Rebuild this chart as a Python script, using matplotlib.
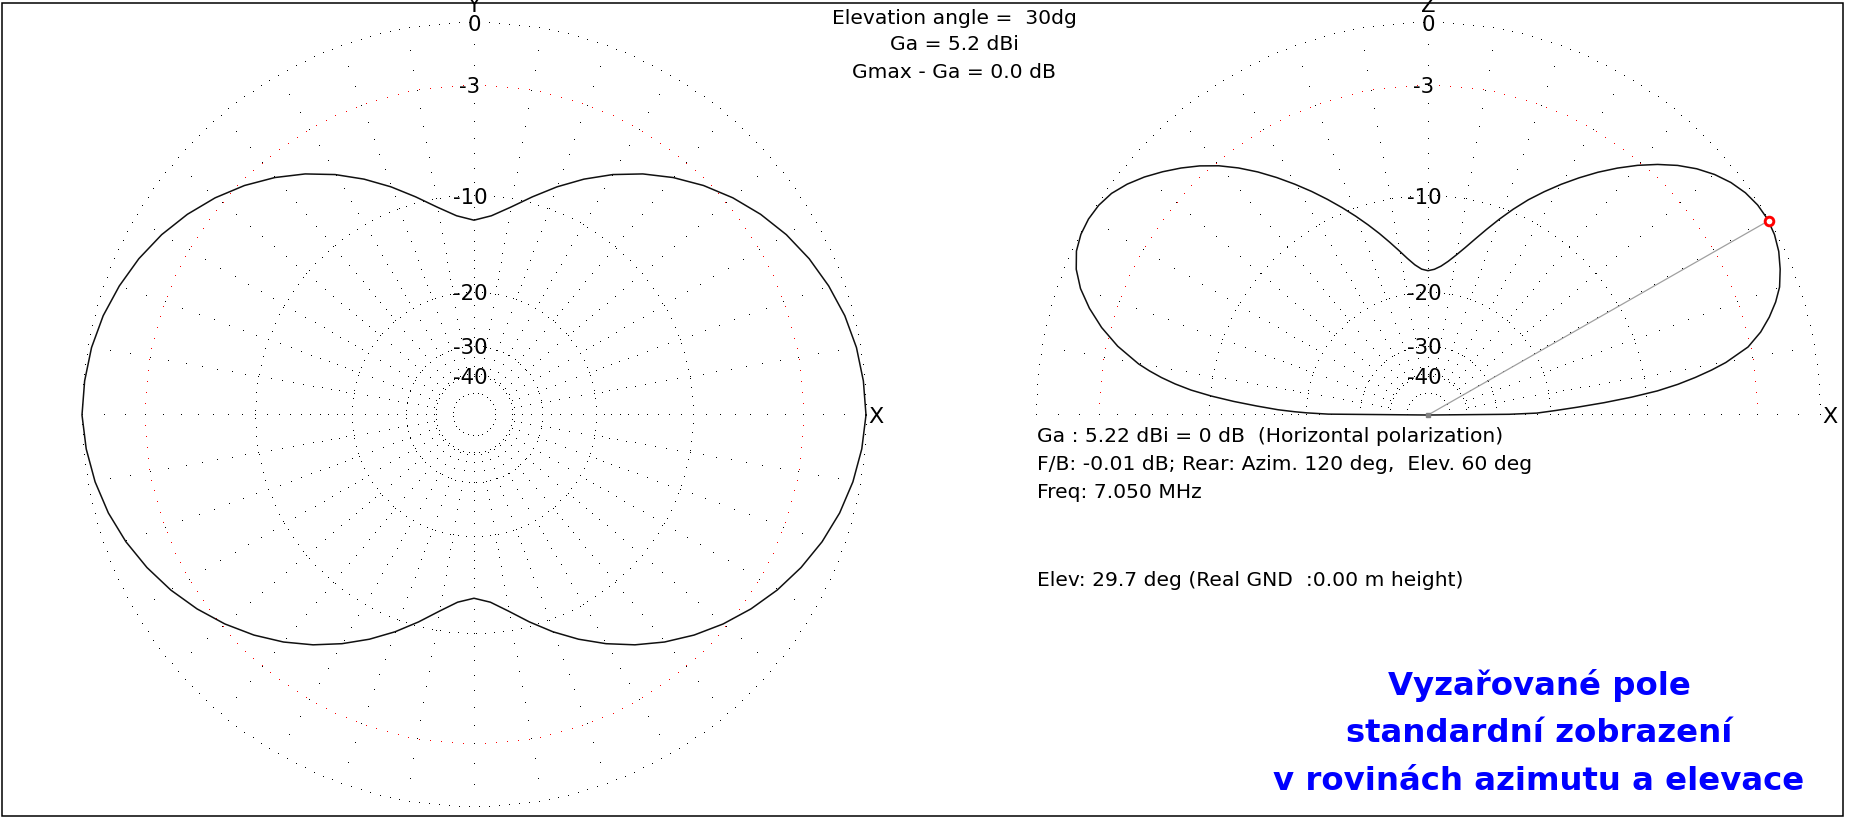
import numpy as np
import matplotlib
matplotlib.use("Agg")
import matplotlib.pyplot as plt
from matplotlib.patches import Rectangle
from matplotlib.transforms import offset_copy

plt.rcParams['font.family'] = ['DejaVu Sans']

# ---------------- data ----------------
# Azimuth pattern (elevation 30 deg): angle CCW from +X, gain in dB relative to max
az_angle_deg = list(range(0, 365, 5))
az_gain_db = [
    # 0 .. 90
    0.0, -0.05, -0.16, -0.36, -0.65, -1.0, -1.43, -1.95, -2.55, -3.24,
    -4.03, -4.92, -5.92, -7.03, -8.22, -9.46, -10.63, -11.55, -12.0,
    # 95 .. 180
    -11.55, -10.63, -9.46, -8.22, -7.03, -5.92, -4.92, -4.03, -3.24,
    -2.55, -1.95, -1.43, -1.0, -0.65, -0.36, -0.16, -0.05, 0.0,
    # 185 .. 270
    -0.12, -0.32, -0.60, -0.97, -1.42, -1.94, -2.54, -3.21, -3.96,
    -4.80, -5.74, -6.78, -7.90, -9.10, -10.37, -11.62, -12.62, -13.05,
    # 275 .. 360
    -12.62, -11.62, -10.37, -9.10, -7.90, -6.78, -5.74, -4.80, -3.96,
    -3.21, -2.54, -1.94, -1.42, -0.97, -0.60, -0.32, -0.12, 0.0,
]

# Elevation pattern: angle from +X horizon (0..180), gain in dB relative to max
elev_angle_deg = [
    0, 0.5, 1, 2, 3, 4, 5, 6, 7, 8, 9, 10, 12, 14, 16, 18, 20,
    22.5, 25, 27.5, 30, 32.5, 35, 37.5, 40, 42.5, 45, 47.5, 50,
    52.5, 55, 57.5, 60, 62.5, 65, 67.5, 70, 72.5, 75, 77.5, 80, 82.5, 85, 87.5, 90,
    92.5, 95, 97.5, 100, 102.5, 105, 107.5, 110, 112.5, 115, 117.5, 120,
    122.5, 125, 127.5, 130, 132.5, 135, 137.5, 140, 142.5, 145, 147.5, 150,
    152.5, 155, 157.5, 160, 162.5, 165, 167.5, 170,
    171, 172, 173, 174, 175, 176, 177, 178, 178.6, 179, 179.5, 180,
]
elev_gain_db = [
    -99, -27, -22, -19.3, -16.5, -13.7, -11.2, -9.1, -7.6, -6.4, -5.35, -4.45,
    -3.1, -2.3, -1.7, -1.2, -0.8,
    -0.48, -0.22, -0.06, 0.0, -0.05, -0.2, -0.45, -0.8, -1.25, -1.8, -2.45, -3.17,
    -3.96, -4.8, -5.7, -6.63, -7.6, -8.6, -9.7, -10.85, -12.02, -13.15, -14.2,
    -15.12, -15.92, -16.55, -16.97, -17.15,
    -16.95, -16.4, -15.6, -14.65, -13.65, -12.62, -11.6, -10.58, -9.57, -8.57, -7.58, -6.62,
    -5.68, -4.78, -3.95, -3.2, -2.55, -1.98, -1.46, -0.98, -0.57, -0.25, -0.07, 0.0,
    -0.03, -0.18, -0.5, -1.0, -1.7, -2.55, -3.6, -4.95,
    -5.65, -6.45, -7.4, -8.55, -10.1, -12.0, -14.2, -16.5, -18.5, -20.2, -23.5, -99,
]

max_elev_deg = 29.7
max_gain_db = 0.0

ring_db = [0, -3, -10, -20, -30, -40, -50]
label_db = [0, -3, -10, -20, -30, -40]
label_text = ["0", "-3", "-10", "-20", "-30", "-40"]

title_lines = ["Elevation angle =  30dg", "Ga = 5.2 dBi", "Gmax - Ga = 0.0 dB"]
info_lines = ["Ga : 5.22 dBi = 0 dB  (Horizontal polarization)",
              "F/B: -0.01 dB; Rear: Azim. 120 deg,  Elev. 60 deg",
              "Freq: 7.050 MHz"]
elev_note = "Elev: 29.7 deg (Real GND  :0.00 m height)"
blue_lines = ["Vyzařované pole", "standardní zobrazení", "v rovinách azimutu a elevace"]

# ---------------- layout ----------------
W, H, DPI = 1853, 823, 100
R_PX = 392.0
RMAX = 1.1
S = 2 * R_PX * RMAX


def db2r(db):
    # ARRL-style log scale: factor 0.89 per 2 dB
    return 0.89 ** (-np.asarray(db, dtype=float) / 2.0)


fig = plt.figure(figsize=(W / DPI, H / DPI), dpi=DPI)
fig.patch.set_facecolor('white')


def fx(x):
    return x / W


def fy(y):
    return 1.0 - y / H


def add_polar(cx, cy):
    ax = fig.add_axes([(cx - S / 2) / W, ((H - cy) - S / 2) / H, S / W, S / H],
                      projection='polar')
    ax.set_theta_zero_location('E')
    ax.set_theta_direction(1)
    ax.set_ylim(0, RMAX)
    ax.set_axis_off()
    return ax


ring_spacing = {0: 10, -3: 11, -10: 9, -20: 8, -30: 7, -40: 5.5, -50: 5}
spoke_dot_db = list(range(-1, -21, -1)) + [-22, -24, -26, -28, -30, -33, -36, -39]


def draw_grid(ax, th0, th1, spokes):
    for d in ring_db:
        r = float(db2r(d))
        n = int(round((th1 - th0) * r * R_PX / ring_spacing[d]))
        th = np.linspace(th0, th1, n + 1)
        ax.plot(th, np.full_like(th, r), ls='none', marker=',',
                color='#ff0000' if d == -3 else '#000000', clip_on=False, zorder=1)
    rr = db2r(spoke_dot_db)
    for a in spokes:
        ax.plot(np.full_like(rr, np.deg2rad(a)), rr, ls='none', marker=',',
                color='#000000', clip_on=False, zorder=1)


def draw_labels(ax, axis_name):
    for d, lab in zip(label_db, label_text):
        dx = 0 if lab == "0" else -4
        tr = offset_copy(ax.transData, fig=fig, x=dx, y=-7.6, units='dots')
        ax.text(np.pi / 2, float(db2r(d)), lab, transform=tr, ha='center',
                va='baseline', fontsize=15.3, color='black', zorder=5)
    # axis name sits just above the top of the outer ring (partly cut by the frame)
    tr = offset_copy(ax.transData, fig=fig, x=0, y=11, units='dots')
    ax.text(np.pi / 2, 1.0, axis_name, transform=tr, ha='center', va='baseline',
            fontsize=15.3, color='black', zorder=5)
    tr = offset_copy(ax.transData, fig=fig, x=10, y=-8.2, units='dots')
    ax.text(0.0, 1.0, "X", transform=tr, ha='center', va='baseline',
            fontsize=16, color='black', zorder=5)


# ---- left: azimuth plot ----
ax1 = add_polar(474, 415)
draw_grid(ax1, 0.0, 2 * np.pi, range(0, 360, 10))
ax1.plot(np.deg2rad(az_angle_deg), db2r(az_gain_db), color='#101010', lw=1.1,
         clip_on=False, zorder=3)
draw_labels(ax1, "Y")

# ---- right: elevation plot ----
ax2 = add_polar(1428, 415)
draw_grid(ax2, 0.0, np.pi, range(0, 190, 10))
ax2.plot(np.deg2rad(elev_angle_deg), db2r(elev_gain_db), color='#101010', lw=1.1,
         clip_on=False, zorder=3)
tm = np.deg2rad(max_elev_deg)
ax2.plot([tm, tm], [0, float(db2r(max_gain_db))], color='#a0a0a0', lw=0.9,
         clip_on=False, zorder=2)
ax2.plot([0], [0], marker='s', ms=3.0, color='#808080', ls='none', clip_on=False, zorder=4)
ax2.plot([tm], [float(db2r(max_gain_db))], marker='o', ms=6.2, mew=2.1,
         mec='#ff0000', mfc='white', ls='none', clip_on=False, zorder=6)
draw_labels(ax2, "Z")

# ---- texts ----
for i, t in enumerate(title_lines):
    fig.text(fx(954), fy(23.5 + 27.0 * i), t, ha='center', va='baseline',
             fontsize=14.6, color='black')
for i, t in enumerate(info_lines):
    fig.text(fx(1037), fy(441.5 + 28.2 * i), t, ha='left', va='baseline',
             fontsize=14.6, color='black')
fig.text(fx(1037), fy(586), elev_note, ha='left', va='baseline',
         fontsize=14.6, color='black')
for i, t in enumerate(blue_lines):
    fig.text(fx(1539), fy(695 + 47.5 * i), t, ha='center', va='baseline',
             fontsize=23.3, fontweight='bold', color='#0000ff')

# ---- frame ----
fig.add_artist(Rectangle((fx(1.5), fy(816)), (1843 - 1.5) / W, (816 - 2.5) / H,
                         transform=fig.transFigure, fill=False, lw=1.1,
                         ec='black', zorder=10))

fig.savefig("out.png", dpi=DPI, facecolor='white')
